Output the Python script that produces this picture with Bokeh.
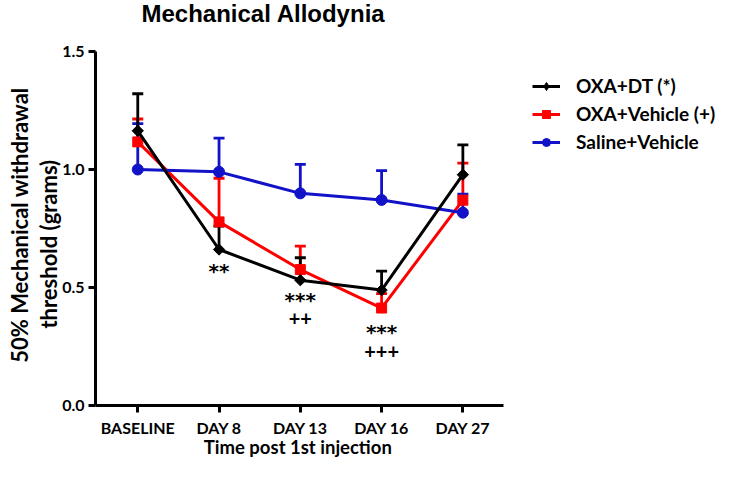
import math
from bokeh.plotting import figure
from bokeh.models import (Range1d, FixedTicker, Whisker, TeeHead, ColumnDataSource,
                          Legend, LegendItem, LinearAxis)
from bokeh.core.properties import value
from bokeh.embed import file_html
from bokeh.resources import INLINE

# ---- data ----
categories = ["BASELINE", "DAY 8", "DAY 13", "DAY 16", "DAY 27"]
oxa_dt = [1.164, 0.661, 0.531, 0.489, 0.978]
oxa_dt_err = [0.157, 0.099, 0.095, 0.080, 0.126]
oxa_veh = [1.117, 0.778, 0.576, 0.413, 0.870]
oxa_veh_err = [0.097, 0.185, 0.099, 0.061, 0.157]
saline = [1.000, 0.990, 0.899, 0.871, 0.817]
saline_err = [0.194, 0.143, 0.123, 0.124, 0.079]
series_names = ["OXA+DT (*)", "OXA+Vehicle (+)", "Saline+Vehicle"]
y_ticks = [0.0, 0.5, 1.0, 1.5]
# significance marks
sig_cats = ["DAY 8", "DAY 13", "DAY 13", "DAY 16", "DAY 16"]
sig_y = [0.582, 0.459, 0.370, 0.323, 0.229]
sig_text = ["**", "***", "++", "***", "+++"]

title_text = "Mechanical Allodynia"
x_title = "Time post 1st injection"
y_title_1 = "50% Mechanical withdrawal"
y_title_2 = "threshold (grams)"

EM, EN = "\u2003", "\u2002"   # spacing used to shift label centres

# ---- layout (pixels) ----
W, H = 717, 468
LEFT, BOTTOM = 95, 63
FRAME_W, FRAME_H = W - LEFT, H - BOTTOM
X_LO, X_HI = -0.52, 4.5           # extent of the drawn x axis
Y_LO, Y_HI = 0.0, 1.5             # extent of the drawn y axis
x_scale = (X_HI - X_LO) / 408     # data units per pixel
y_scale = (Y_HI - Y_LO) / 354

xs = list(range(len(categories)))
FONT = "Lato"

p = figure(width=W, height=H, output_backend="svg", toolbar_location=None,
           x_range=Range1d(X_LO, X_LO + FRAME_W * x_scale),
           y_range=Range1d(Y_LO, Y_LO + FRAME_H * y_scale),
           min_border_left=LEFT, min_border_right=0, min_border_top=0,
           min_border_bottom=BOTTOM)
p.outline_line_color = None
p.grid.visible = False

def style_axis(ax):
    ax.axis_line_width = 3
    ax.axis_line_color = "black"
    ax.major_tick_line_width = 3
    ax.major_tick_line_color = "black"
    ax.major_tick_in = 0
    ax.major_tick_out = 7
    ax.minor_tick_line_color = None
    ax.major_label_text_font = FONT
    ax.major_label_text_font_style = "bold"
    ax.major_label_text_color = "black"
    ax.axis_label_text_font = FONT
    ax.axis_label_text_font_style = "bold"
    ax.axis_label_text_color = "black"

xa, ya = p.xaxis[0], p.yaxis[0]
style_axis(xa)
style_axis(ya)

xa.bounds = (X_LO, X_HI)
xa.ticker = FixedTicker(ticks=xs)
xa.major_label_overrides = {i: c for i, c in zip(xs, categories)}
xa.major_label_text_font_size = "16px"
xa.major_label_standoff = 5
xa.axis_label = x_title + EM * 15 + EN
xa.axis_label_text_font_size = "18.5px"
xa.axis_label_standoff = -4

ya.bounds = (Y_LO, Y_HI)
ya.ticker = FixedTicker(ticks=y_ticks)
ya.major_label_overrides = {t: f"{t:.1f}" for t in y_ticks}
ya.major_label_text_font_size = "16px"
ya.major_label_standoff = 4
ya.axis_label = y_title_2 + EM * 5
ya.axis_label_text_font_size = "22px"
ya.axis_label_standoff = -3

ya2 = LinearAxis(ticker=FixedTicker(ticks=[]), bounds=(Y_LO, Y_HI))
style_axis(ya2)
ya2.axis_line_color = None
ya2.major_tick_out = 0
ya2.major_label_standoff = 0
ya2.axis_label = y_title_1 + EM * 2 + EN
ya2.axis_label_text_font_size = "22px"
ya2.axis_label_standoff = 0
p.add_layout(ya2, "left")

# title, above the drawn axes
p.text(x=[X_LO + 168 * x_scale], y=[Y_HI + 38.5 * y_scale], text=[title_text],
       text_font=value("Liberation Sans"), text_font_style="bold",
       text_font_size="24px", text_align="center", text_baseline="alphabetic",
       text_color="black")

colors = ["#000000", "#FF0000", "#1212C8"]
markers = ["square", "square", "circle"]
angles = [math.pi / 4, 0, 0]
sizes = [8, 10, 11]
means = [oxa_dt, oxa_veh, saline]
errs = [oxa_dt_err, oxa_veh_err, saline_err]

rend = {}
for k in [1, 2, 0]:
    src = ColumnDataSource(dict(x=xs, y=means[k],
                                upper=[m + e for m, e in zip(means[k], errs[k])]))
    w = Whisker(base="x", lower="y", upper="upper", source=src, dimension="height",
                line_color=colors[k], line_width=2.8, lower_head=None,
                upper_head=TeeHead(size=11, line_color=colors[k], line_width=2.8))
    p.add_layout(w)
    ln = p.line("x", "y", source=src, line_color=colors[k], line_width=3)
    sc = p.scatter("x", "y", source=src, marker=markers[k], size=sizes[k],
                   angle=angles[k], fill_color=colors[k], line_color=colors[k])
    rend[k] = [ln, sc]

# legend key for the diamond series (legend keys ignore marker rotation);
# its single point has no position, so nothing is drawn in the plot area
key_src = ColumnDataSource(dict(x=[float("nan")], y=[float("nan")]))
diamond_key = p.scatter("x", "y", source=key_src, marker="diamond", size=12,
                        fill_color=colors[0], line_color=colors[0])
rend[0] = [rend[0][0], diamond_key]

items = [LegendItem(label=series_names[k], renderers=rend[k]) for k in range(3)]
legend = Legend(items=items, location=(437, 252), border_line_color=None,
                background_fill_alpha=0, padding=0, margin=0, spacing=5,
                glyph_width=28, glyph_height=20, label_height=20, label_standoff=16,
                label_text_font=FONT, label_text_font_style="bold",
                label_text_font_size="19px", label_text_color="black")
p.add_layout(legend, "center")

sig_x = [categories.index(c) for c in sig_cats]
sig_font = ["DejaVu Sans" if "*" in t else FONT for t in sig_text]
sig_dy = [3 if "*" in t else 0 for t in sig_text]
sig_src = ColumnDataSource(dict(x=sig_x, y=sig_y, text=sig_text, font=sig_font,
                                dy=sig_dy))
p.text(x="x", y="y", text="text", source=sig_src, text_font="font", y_offset="dy",
       text_font_style="bold", text_font_size="20px", text_align="center",
       text_baseline="middle", text_color="black")

open("out.html", "w").write(file_html(p, INLINE))
